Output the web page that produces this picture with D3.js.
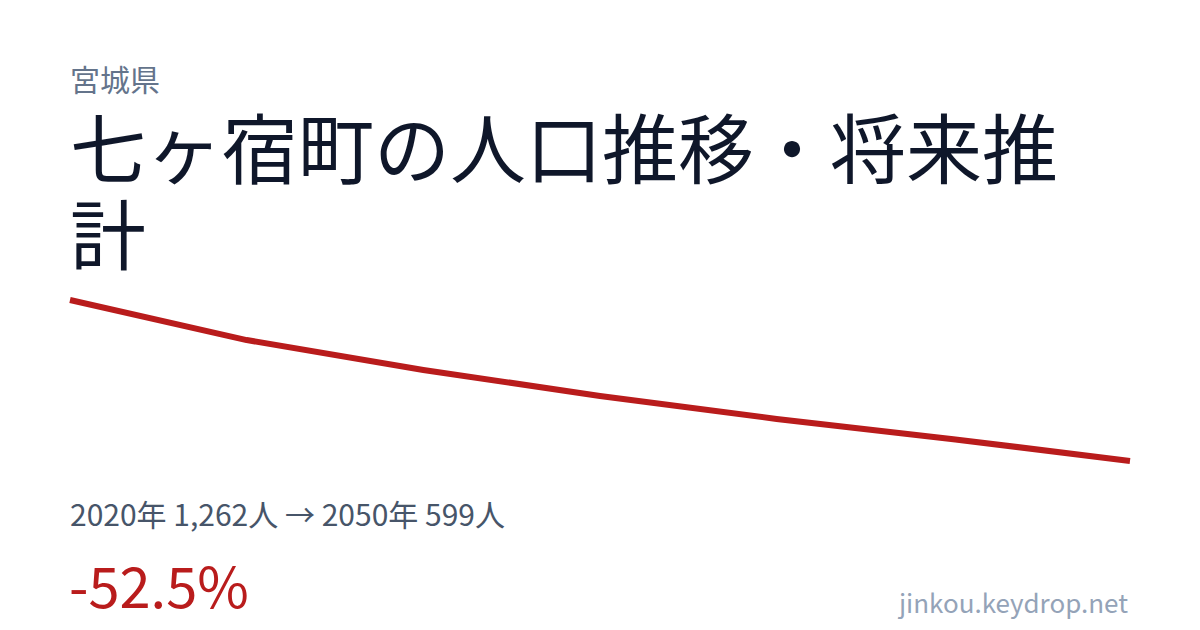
<!DOCTYPE html>
<html>
<head>
<meta charset="utf-8">
<script src="https://cdn.jsdelivr.net/npm/d3@7"></script>
<style>
  html, body { margin: 0; padding: 0; background: #fff; }
  svg { display: block; font-family: "Noto Sans CJK JP", "Noto Sans", sans-serif; }
</style>
</head>
<body>
<svg id="chart"></svg>
<script>
const prefecture = "宮城県";
const title = "七ヶ宿町の人口推移・将来推計";
const years = [2020, 2025, 2030, 2035, 2040, 2045, 2050];
const population = [1262, 1097, 974, 867, 772, 689, 599];
const watermark = "jinkou.keydrop.net";

const width = 1200, height = 630;
const margin = { left: 70, right: 70 };

const svg = d3.select("#chart")
  .attr("width", width)
  .attr("height", height)
  .attr("viewBox", [0, 0, width, height]);

svg.append("rect").attr("width", width).attr("height", height).attr("fill", "#fff");

// prefecture label
svg.append("text")
  .attr("x", margin.left)
  .attr("y", 91)
  .attr("fill", "#64748b")
  .style("font-size", "30px")
  .text(prefecture);

// title, wrapped by hand to the chart width
const titleG = svg.append("text")
  .attr("x", margin.left)
  .attr("y", 178)
  .attr("fill", "#0f172a")
  .style("font-size", "76px");

const maxW = width - margin.left - margin.right;
let line = "", lines = [];
const probe = titleG.append("tspan");
for (const ch of title) {
  probe.text(line + ch);
  if (probe.node().getComputedTextLength() > maxW && line) {
    lines.push(line);
    line = ch;
  } else {
    line += ch;
  }
}
lines.push(line);
probe.remove();
titleG.selectAll("tspan")
  .data(lines)
  .join("tspan")
  .attr("x", margin.left)
  .attr("dy", (d, i) => i ? 86 : 0)
  .text(d => d);

// line chart
const x = d3.scaleLinear()
  .domain(d3.extent(years))
  .range([margin.left, width - margin.right]);

const y = d3.scaleLinear()
  .domain(d3.extent(population))
  .range([461, 300]);

const data = years.map((yr, i) => ({ year: yr, value: population[i] }));

svg.append("path")
  .datum(data)
  .attr("fill", "none")
  .attr("stroke", "#b91c1c")
  .attr("stroke-width", 6)
  .attr("stroke-linejoin", "round")
  .attr("d", d3.line().x(d => x(d.year)).y(d => y(d.value)));

// summary
const first = data[0], last = data[data.length - 1];
const fmt = d3.format(",");
svg.append("text")
  .attr("x", margin.left)
  .attr("y", 526)
  .attr("fill", "#475569")
  .style("font-size", "30px")
  .text(`${first.year}年 ${fmt(first.value)}人 → ${last.year}年 ${fmt(last.value)}人`);

const change = (last.value - first.value) / first.value * 100;
svg.append("text")
  .attr("x", margin.left - 1)
  .attr("y", 608)
  .attr("fill", "#b91c1c")
  .style("font-size", "56px")
  .text(`${change.toFixed(1)}%`);

svg.append("text")
  .attr("x", width - 72)
  .attr("y", 613)
  .attr("text-anchor", "end")
  .attr("fill", "#94a3b8")
  .style("font-size", "26px")
  .text(watermark);
</script>
</body>
</html>
